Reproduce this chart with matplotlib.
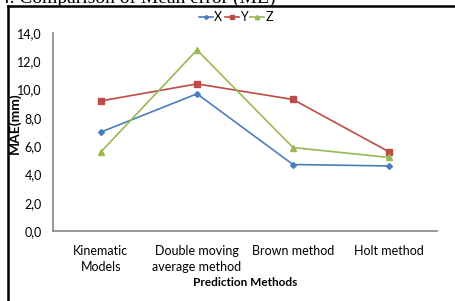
import matplotlib.pyplot as plt
from matplotlib.lines import Line2D

# values
methods = ['Kinematic\nModels', 'Double moving\naverage method', 'Brown method', 'Holt method']
x_err = [7.0, 9.7, 4.7, 4.6]
y_err = [9.2, 10.4, 9.3, 5.6]
z_err = [5.6, 12.8, 5.9, 5.2]
yticks = [0, 2, 4, 6, 8, 10, 12, 14]

plt.rcParams['font.family'] = ['Lato', 'DejaVu Sans']

W, H = 456, 301
fig = plt.figure(figsize=(W / 100, H / 100), dpi=100)
ax = fig.add_axes([53 / W, 1 - 231 / H, (437 - 53) / W, (231 - 33) / H])

pos = range(len(methods))
ax.plot(pos, x_err, color='#4A7EBB', marker='D', markersize=3, lw=1.2, label='X')
ax.plot(pos, y_err, color='#BE4B48', marker='s', markersize=4.5, lw=1.2, label='Y')
ax.plot(pos, z_err, color='#98B954', marker='^', markersize=4.5, lw=1.2, label='Z')

ax.set_xlim(-0.5, len(methods) - 0.5)
ax.set_ylim(0, 14)
ax.set_yticks(yticks)
ax.set_yticklabels([f'{v:.1f}'.replace('.', ',') for v in yticks], fontsize=9)
ax.set_xticks(list(pos))
ax.set_xticklabels(methods, fontsize=9, linespacing=1.45)
ax.tick_params(axis='both', length=0)
ax.tick_params(axis='x', pad=10)
ax.tick_params(axis='y', pad=8)
for s in ['top', 'right']:
    ax.spines[s].set_visible(False)
for s in ['left', 'bottom']:
    ax.spines[s].set_color('#868686')
    ax.spines[s].set_linewidth(1.2)

ax.set_ylabel('MAE(mm)', fontsize=10, fontweight='bold', va='center')
ax.yaxis.set_label_coords((15 - 53) / 384, (231 - 123) / 198)
ax.set_xlabel('Prediction Methods', fontsize=8.5, fontweight='bold', va='center')
ax.xaxis.set_label_coords(0.5, (231 - 283) / 198)

fig.legend(loc='center', bbox_to_anchor=(236 / W, 1 - 17 / H), ncol=3, frameon=False,
           fontsize=9, handlelength=1.1, handletextpad=0.1, columnspacing=0.2,
           markerscale=0.7)

# caption cut at the top and the frame around the chart
fig.text(0.0, 1 - 3 / H, '4. Comparison of Mean error (ME)', family='Liberation Serif',
         fontsize=14, va='baseline')
fig.add_artist(Line2D([8 / W, 8 / W], [0, 1 - 6 / H], color='black', lw=1.8))
fig.add_artist(Line2D([8 / W, 1], [1 - 6 / H, 1 - 6 / H], color='black', lw=1.8))

fig.savefig('out.png', dpi=100)
